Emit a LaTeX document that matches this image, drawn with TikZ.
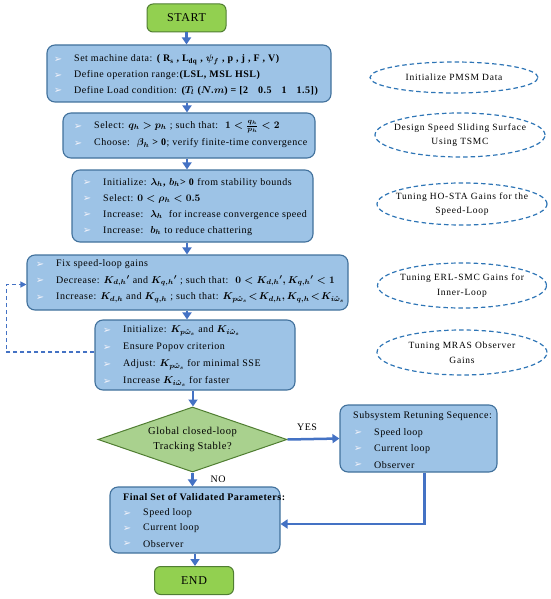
\documentclass[tikz,border=0pt]{standalone}
\usepackage{fontspec}
\setmainfont{Liberation Serif}
\newfontfamily\dejavu{DejaVu Sans}
\newfontfamily\spacedA[LetterSpace=5]{Liberation Serif}
\newfontfamily\spacedB[LetterSpace=8]{Liberation Serif}
\usetikzlibrary{shapes.geometric,arrows.meta}
\definecolor{boxfill}{HTML}{9DC3E6}
\definecolor{boxdraw}{HTML}{41719C}
\definecolor{grfill}{HTML}{92D050}
\definecolor{grdraw}{HTML}{507E32}
\definecolor{dmfill}{HTML}{A9D18E}
\definecolor{arrblue}{HTML}{4472C4}
\definecolor{ellblue}{HTML}{2E75B6}
\definecolor{bulc}{HTML}{F2F2FA}
\newcommand\bl[4]{%
  \node[bul] (#1b) at (#2,#3) {➢};
  \node[txt] (#1) at (#2+16,#3) {#4};}
\tikzset{
  box/.style={draw=boxdraw, fill=boxfill, rounded corners=8pt, line width=1.1pt, inner sep=0pt},
  txt/.style={anchor=west, inner sep=0pt, font=\spacedA\fontsize{10}{12}\selectfont\boldmath},
  bul/.style={text=bulc, font=\dejavu\fontsize{10}{12}\selectfont, inner sep=0pt},
  term/.style={draw=grdraw, fill=grfill, rounded corners=6pt, line width=1pt, minimum width=79pt, minimum height=28pt, font=\spacedA\fontsize{12}{14}\selectfont},
  ell/.style={ellipse, draw=ellblue, line width=1.2pt, dash pattern=on 4.5pt off 3pt, inner sep=0pt},
  etxt/.style={font=\spacedB\fontsize{9.5}{14.5}\selectfont, align=center, inner sep=0pt},
  arr/.style={draw=arrblue, line width=2.5pt, -{Triangle[length=7pt,width=9pt]}},
  lbl/.style={font=\spacedA\fontsize{10}{12}\selectfont, inner sep=0pt}
}
\begin{document}
\begin{tikzpicture}[x=1pt,y=-1pt]
\useasboundingbox (0,0) rectangle (550,599);
% terminals
\node[term] (start) at (186.5,18) {START};
\node[term] (end) at (194,580.5) {END};
% boxes
\node[box, minimum width=284pt, minimum height=57pt] (b1) at (189,73.5) {};
\node[box, minimum width=252pt, minimum height=45pt] (b2) at (189,135.5) {};
\node[box, minimum width=241pt, minimum height=72pt] (b3) at (192.5,206) {};
\node[box, minimum width=321pt, minimum height=55pt] (b4) at (187.5,282.5) {};
\node[box, minimum width=200pt, minimum height=70pt] (b5) at (195,355) {};
\node[box, minimum width=157pt, minimum height=67pt] (sub) at (418.5,438.5) {};
\node[box, minimum width=170pt, minimum height=66pt] (b6) at (195,520) {};
\node[diamond, draw=grdraw, fill=dmfill, line width=1pt, minimum width=189pt, minimum height=65pt, aspect=2.9, inner sep=0pt] (dm) at (192.5,439.5) {};
\node[align=center, font=\spacedA\fontsize{10.5}{15}\selectfont, inner sep=0pt] (dmt) at (dm.center) {Global closed-loop\\Tracking Stable?};
% box 1
\bl{a1}{58}{60}{Set machine data: \textbf{( R\textsubscript{s} , L\textsubscript{dq} , $\psi_f$ , p , j , F , V)}}
\bl{a2}{58}{75.5}{Define operation range:\textbf{(LSL, MSL HSL)}}
\bl{a3}{58}{91}{Define Load condition: \textbf{($T_l$ ($N.m$) = [2\quad 0.5\quad 1\quad 1.5])}}
% box 2
\bl{c1}{78}{127}{Select: $q_h > p_h$ ; such that: \ $1 < \frac{q_h}{p_h} < 2$}
\bl{c2}{78}{143.5}{Choose: \ $\beta_h$ \textbf{> 0}; verify finite-time convergence}
% box 3
\bl{d1}{87}{183}{Initialize: $\lambda_h$\textbf{,} $b_h$\textbf{> 0} from stability bounds}
\bl{d2}{87}{199}{Select: $0 < \rho_h < 0.5$}
\bl{d3}{87}{215}{Increase: \ $\lambda_h$ \ for increase convergence speed}
\bl{d4}{87}{231}{Increase: \ $b_h$ to reduce chattering}
% box 4
\bl{e1}{40}{264.5}{Fix speed-loop gains}
\bl{e2}{40}{281}{Decrease: $K_{d,h}{}'$ and $K_{q,h}{}'$ ; such that: \ $0 < K_{d,h}{}', K_{q,h}{}' < 1$}
\bl{e3}{40}{297.5}{Increase: $K_{d,h}$ and $K_{q,h}$ ; such that: $K_{p\hat{\omega}_s}\! <\! K_{d,h}, K_{q,h}\! <\! K_{i\hat{\omega}_s}$}
% box 5
\bl{f1}{107}{330.5}{Initialize: $K_{p\hat{\omega}_s}$ and $K_{i\hat{\omega}_s}$}
\bl{f2}{107}{347.5}{Ensure Popov criterion}
\bl{f3}{107}{364.5}{Adjust: $K_{p\hat{\omega}_s}$ for minimal SSE}
\bl{f4}{107}{381.5}{Increase $K_{i\hat{\omega}_s}$ for faster}
% subsystem
\node[txt] (st) at (353,416.5) {Subsystem Retuning Sequence:};
\bl{s1}{358}{433}{Speed loop}
\bl{s2}{358}{449}{Current loop}
\bl{s3}{358}{465}{Observer}
% final
\node[txt] (ft) at (123,497) {\textbf{Final Set of Validated Parameters:}};
\bl{g1}{127}{513.5}{Speed loop}
\bl{g2}{127}{528.5}{Current loop}
\bl{g3}{127}{544}{Observer}
% ellipses
\node[ell, minimum width=168pt, minimum height=31pt] (e1) at (454,77.5) {};
\node[etxt] (e1t) at (e1.center) {Initialize PMSM Data};
\node[ell, minimum width=170pt, minimum height=44pt] (e2) at (460,135) {};
\node[etxt] (e2t) at (e2.center) {Design Speed Sliding Surface\\Using TSMC};
\node[ell, minimum width=170pt, minimum height=42pt] (e3) at (462,204) {};
\node[etxt] (e3t) at (e3.center) {Tuning HO-STA Gains for the\\Speed-Loop};
\node[ell, minimum width=169pt, minimum height=45pt] (e4) at (462,285.5) {};
\node[etxt] (e4t) at (e4.center) {Tuning ERL-SMC Gains for\\Inner-Loop};
\node[ell, minimum width=170pt, minimum height=45pt] (e5) at (462,352.5) {};
\node[etxt] (e5t) at (e5.center) {Tuning MRAS Observer\\Gains};
% arrows
\draw[arr] (start.south) -- (start.south |- b1.north);
\draw[arr] ([xshift=-2pt]b1.south) -- ([xshift=-2pt]b1.south |- b2.north);
\draw[arr] ([xshift=-2pt]b2.south) -- ([xshift=-2pt]b2.south |- b3.north);
\draw[arr] ([xshift=-5.5pt]b3.south) -- ([xshift=-5.5pt]b3.south |- b4.north);
\draw[arr] ([xshift=-0.5pt]b4.south) -- ([xshift=-0.5pt]b4.south |- b5.north);
\draw[arr] ([xshift=-2pt]b5.south) -- ([xshift=-2pt]b5.south |- dm.north);
\draw[arr] (dm.south) -- (dm.south |- b6.north);
\draw[arr] (b6.south) -- (b6.south |- end.north);
\draw[arr] (dm.east) -- (sub.west);
\draw[arr] ([xshift=6pt]sub.south) |- ([yshift=-4pt]b6.east);
\draw[draw=arrblue, line width=1.2pt, dash pattern=on 4pt off 3pt, -{Triangle[length=6pt,width=6pt]}] ([yshift=3pt]b5.west) -- ++(-88,0) |- ([yshift=-2pt]b4.west);
% labels
\node[lbl] (yes) at (307,427) {YES};
\node[lbl] (no) at (218,479) {NO};
\end{tikzpicture}
\end{document}
